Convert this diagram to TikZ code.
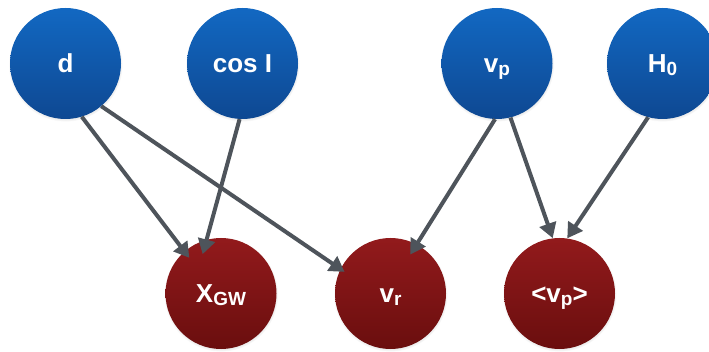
\documentclass[tikz,border=0pt]{standalone}
\usepackage{fontspec}
\setmainfont{Liberation Sans}
\usetikzlibrary{arrows.meta,shadows}
\definecolor{bluetop}{RGB}{18,104,194}
\definecolor{bluebot}{RGB}{14,72,146}
\definecolor{redtop}{RGB}{146,26,28}
\definecolor{redbot}{RGB}{106,14,14}
\definecolor{edgegray}{RGB}{78,84,91}
\newcommand{\lowsub}[2][3pt]{\raisebox{-#1}[0pt][0pt]{\fontsize{19}{19}\selectfont #2}}

\begin{document}
\begin{tikzpicture}[x=1pt,y=-1pt,
            var/.style={circle,inner sep=0pt,minimum size=111pt,text=white,
                font=\fontsize{26}{26}\selectfont\bfseries,text height=19pt,text depth=0pt,
                circular drop shadow={shadow xshift=0pt,shadow yshift=-1pt,shadow scale=1.03,opacity=0.45}},
            prior/.style={var,top color=bluetop,bottom color=bluebot},
            obs/.style={var,top color=redtop,bottom color=redbot},
            edge/.style={draw=edgegray,line width=4pt,-{Triangle[length=15pt,width=17pt]}}]
            \useasboundingbox (0,0) rectangle (709,352);
            \clip (0,0) rectangle (709,352);
            \node[prior] (d) at (65.5,63.5) {d};
            \node[prior] (cosi) at (242.5,63.5) {cos I};
            \node[prior] (vp) at (497,63.5) {v\lowsub{p}};
            \node[prior] (h0) at (662.5,63.5) {H\lowsub[2.5pt]{0}};
            \node[obs] (xgw) at (221,293.5) {X\lowsub{GW}};
            \node[obs] (vr) at (390.5,293.5) {v\lowsub{r}};
            \node[obs] (vpavg) at (559.5,293.5) {<v\lowsub{p}>};
            \draw[edge,shorten >=-8pt] (d.-73) -- (xgw.131);
            \draw[edge,shorten >=-5pt] (d.-50) -- (vr.154);
            \draw[edge,shorten >=-15pt] (cosi.-93) -- (xgw.105);
            \draw[edge,shorten >=-12pt] (vp.-92) -- (vr.62);
            \draw[edge] (vp.-76) -- (vpavg.97);
            \draw[edge] (h0.-105) -- (vpavg.82);
\end{tikzpicture}
\end{document}
